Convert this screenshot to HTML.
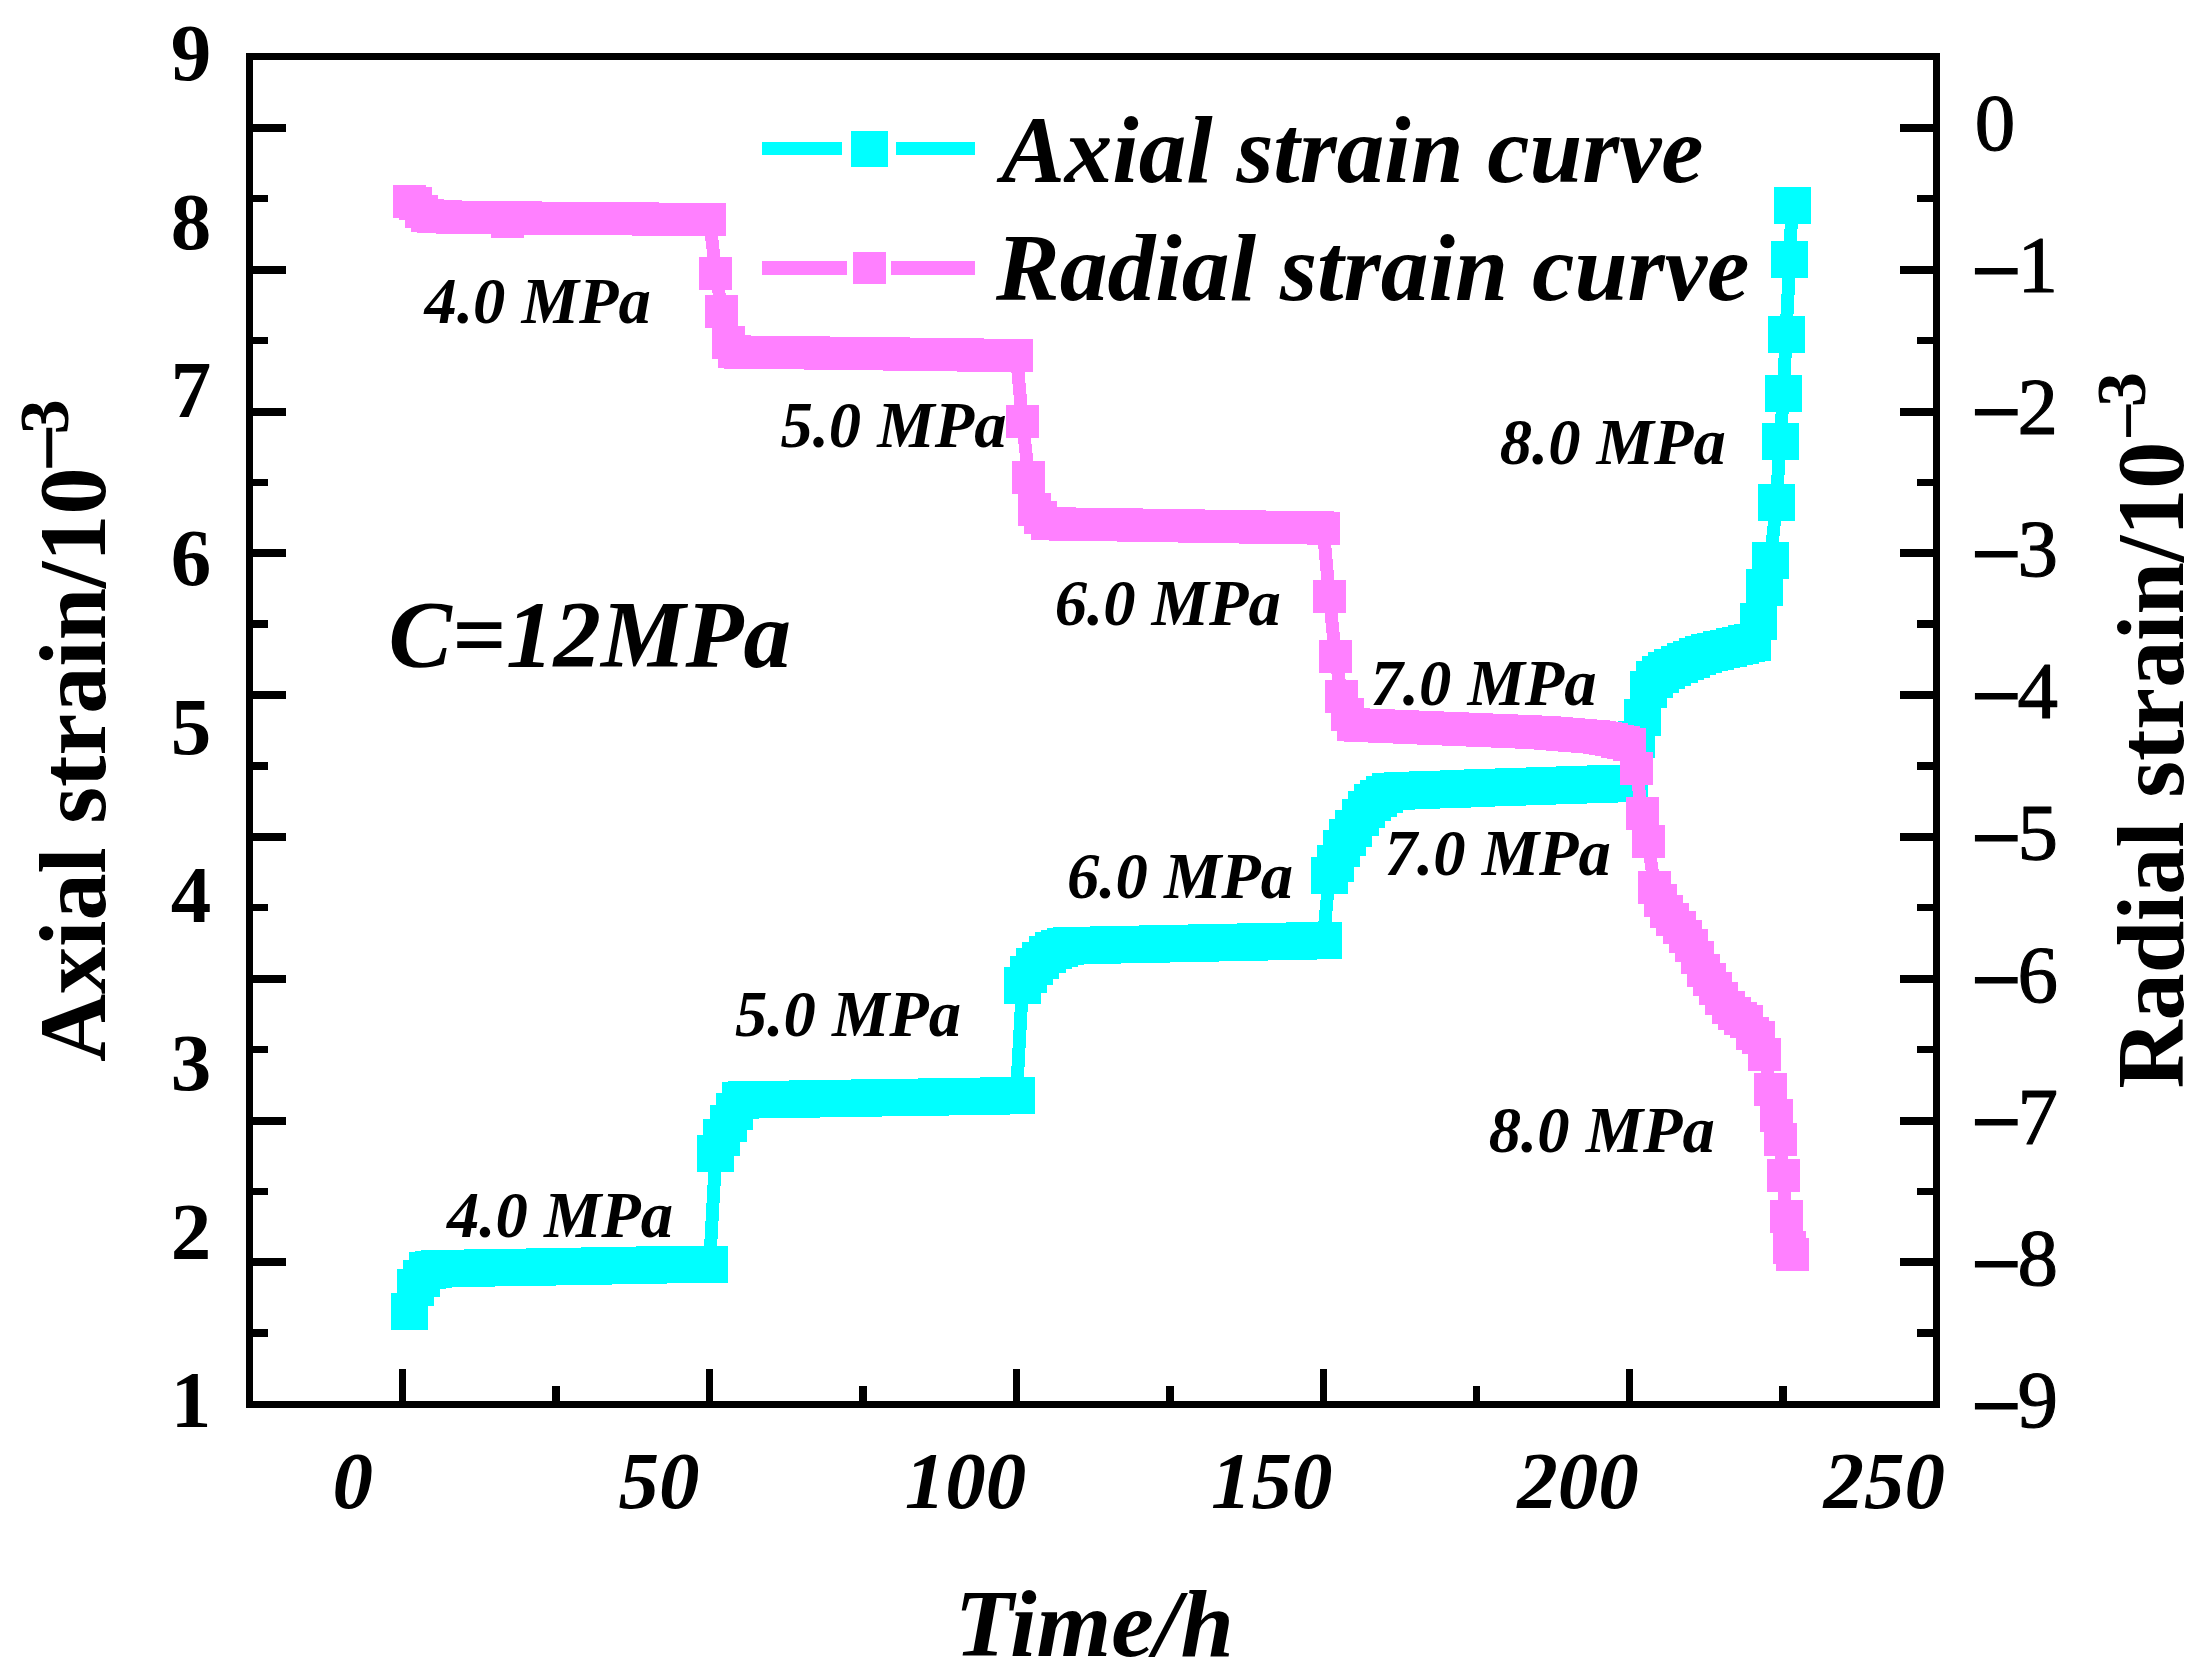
<!DOCTYPE html>
<html lang="en"><head><meta charset="utf-8"><title>Creep strain curves</title>
<style>
html,body{margin:0;padding:0;background:#fff;}
body{width:2204px;height:1680px;overflow:hidden;}
svg{display:block;}
text{font-family:"Liberation Serif",serif;fill:#000;}
.bi{font-weight:bold;font-style:italic;}
.b{font-weight:bold;}
</style></head><body>
<svg width="2204" height="1680" viewBox="0 0 2204 1680" shape-rendering="crispEdges">
<rect x="0" y="0" width="2204" height="1680" fill="#fff"/>
<path d="M409.0 1311.9 L415.2 1287.0 L421.3 1278.4 L427.4 1270.5 L433.6 1269.5 L439.7 1268.5 L445.8 1268.4 L452.0 1268.3 L458.1 1268.2 L464.2 1268.1 L470.4 1268.0 L476.5 1268.0 L482.7 1267.9 L488.8 1267.8 L494.9 1267.7 L501.1 1267.6 L507.2 1267.5 L513.3 1267.4 L519.5 1267.3 L525.6 1267.2 L531.7 1267.1 L537.9 1267.0 L544.0 1266.8 L550.1 1266.7 L556.3 1266.6 L562.4 1266.5 L568.5 1266.4 L574.7 1266.3 L580.8 1266.2 L586.9 1266.1 L593.1 1266.0 L599.2 1265.9 L605.4 1265.8 L611.5 1265.7 L617.6 1265.6 L623.8 1265.5 L629.9 1265.4 L636.0 1265.3 L642.2 1265.1 L648.3 1265.0 L654.4 1264.9 L660.6 1264.8 L666.7 1264.7 L672.8 1264.6 L679.0 1264.5 L685.1 1264.4 L691.2 1264.3 L697.4 1264.2 L703.5 1264.1 L709.6 1264.0 L715.8 1153.7 L721.9 1137.5 L728.1 1123.5 L734.2 1111.0 L740.3 1100.0 L746.5 1099.9 L752.6 1099.8 L758.7 1099.7 L764.9 1099.6 L771.0 1099.5 L777.1 1099.4 L783.3 1099.3 L789.4 1099.2 L795.5 1099.1 L801.7 1099.0 L807.8 1098.9 L813.9 1098.8 L820.1 1098.7 L826.2 1098.6 L832.3 1098.5 L838.5 1098.4 L844.6 1098.3 L850.8 1098.2 L856.9 1098.1 L863.0 1098.0 L869.2 1097.9 L875.3 1097.8 L881.4 1097.8 L887.6 1097.7 L893.7 1097.6 L899.8 1097.5 L906.0 1097.4 L912.1 1097.3 L918.2 1097.2 L924.4 1097.1 L930.5 1097.0 L936.6 1096.9 L942.8 1096.8 L948.9 1096.7 L955.0 1096.6 L961.2 1096.5 L967.3 1096.4 L973.5 1096.3 L979.6 1096.2 L985.7 1096.1 L991.9 1096.0 L998.0 1095.9 L1004.1 1095.8 L1010.3 1095.7 L1016.4 1095.6 L1022.5 985.0 L1028.7 974.0 L1034.8 966.0 L1040.9 960.0 L1047.1 954.5 L1053.2 950.5 L1059.3 948.0 L1065.5 946.9 L1071.6 945.7 L1077.8 945.6 L1083.9 945.4 L1090.0 945.3 L1096.2 945.2 L1102.3 945.1 L1108.4 944.9 L1114.6 944.8 L1120.7 944.7 L1126.8 944.6 L1133.0 944.4 L1139.1 944.3 L1145.2 944.2 L1151.4 944.1 L1157.5 943.9 L1163.6 943.8 L1169.8 943.7 L1175.9 943.5 L1182.0 943.4 L1188.2 943.3 L1194.3 943.2 L1200.4 943.0 L1206.6 942.9 L1212.7 942.8 L1218.9 942.7 L1225.0 942.5 L1231.1 942.4 L1237.3 942.3 L1243.4 942.1 L1249.5 942.0 L1255.7 941.9 L1261.8 941.8 L1267.9 941.6 L1274.1 941.5 L1280.2 941.4 L1286.3 941.3 L1292.5 941.1 L1298.6 941.0 L1304.7 940.9 L1310.9 940.8 L1317.0 940.6 L1323.2 940.5 L1329.3 875.8 L1335.4 863.5 L1341.6 848.8 L1347.7 837.7 L1353.8 828.0 L1360.0 817.3 L1366.1 809.0 L1372.2 802.7 L1378.4 798.0 L1384.5 794.2 L1390.6 791.6 L1396.8 791.1 L1402.9 790.6 L1409.0 790.4 L1415.2 790.2 L1421.3 790.0 L1427.4 789.8 L1433.6 789.6 L1439.7 789.4 L1445.8 789.2 L1452.0 789.0 L1458.1 788.8 L1464.3 788.5 L1470.4 788.3 L1476.5 788.1 L1482.7 787.9 L1488.8 787.7 L1494.9 787.5 L1501.1 787.3 L1507.2 787.1 L1513.3 786.9 L1519.5 786.7 L1525.6 786.5 L1531.7 786.3 L1537.9 786.1 L1544.0 785.9 L1550.1 785.7 L1556.3 785.5 L1562.4 785.3 L1568.5 785.1 L1574.7 784.8 L1580.8 784.6 L1587.0 784.4 L1593.1 784.2 L1599.2 784.0 L1605.4 783.8 L1611.5 783.6 L1617.6 783.4 L1623.8 783.2 L1629.9 783.0 L1636.0 739.5 L1642.2 717.0 L1648.3 689.0 L1654.4 679.0 L1660.6 674.0 L1666.7 670.0 L1672.8 667.0 L1679.0 664.0 L1685.1 661.5 L1691.2 659.0 L1697.4 656.5 L1703.5 654.0 L1709.7 652.5 L1715.8 651.0 L1721.9 649.5 L1728.1 648.0 L1734.2 646.5 L1740.3 645.0 L1746.5 643.5 L1752.6 642.0 L1758.5 621.5 L1764.6 587.0 L1770.5 560.3 L1776.4 502.5 L1780.0 441.5 L1783.5 393.5 L1786.0 334.5 L1789.8 259.0 L1792.0 205.0" fill="none" stroke="#00ffff" stroke-width="13" stroke-linejoin="miter"/>
<path d="M390.5 1293.4h37v37h-37zM396.7 1268.5h37v37h-37zM402.8 1259.9h37v37h-37zM408.9 1252.0h37v37h-37zM415.1 1251.0h37v37h-37zM421.2 1250.0h37v37h-37zM427.3 1249.9h37v37h-37zM433.5 1249.8h37v37h-37zM439.6 1249.7h37v37h-37zM445.8 1249.6h37v37h-37zM451.9 1249.5h37v37h-37zM458.0 1249.5h37v37h-37zM464.2 1249.4h37v37h-37zM470.3 1249.3h37v37h-37zM476.4 1249.2h37v37h-37zM482.6 1249.1h37v37h-37zM488.7 1249.0h37v37h-37zM494.8 1248.9h37v37h-37zM501.0 1248.8h37v37h-37zM507.1 1248.7h37v37h-37zM513.2 1248.6h37v37h-37zM519.4 1248.5h37v37h-37zM525.5 1248.3h37v37h-37zM531.6 1248.2h37v37h-37zM537.8 1248.1h37v37h-37zM543.9 1248.0h37v37h-37zM550.0 1247.9h37v37h-37zM556.2 1247.8h37v37h-37zM562.3 1247.7h37v37h-37zM568.4 1247.6h37v37h-37zM574.6 1247.5h37v37h-37zM580.7 1247.4h37v37h-37zM586.9 1247.3h37v37h-37zM593.0 1247.2h37v37h-37zM599.1 1247.1h37v37h-37zM605.3 1247.0h37v37h-37zM611.4 1246.9h37v37h-37zM617.5 1246.8h37v37h-37zM623.7 1246.6h37v37h-37zM629.8 1246.5h37v37h-37zM635.9 1246.4h37v37h-37zM642.1 1246.3h37v37h-37zM648.2 1246.2h37v37h-37zM654.3 1246.1h37v37h-37zM660.5 1246.0h37v37h-37zM666.6 1245.9h37v37h-37zM672.7 1245.8h37v37h-37zM678.9 1245.7h37v37h-37zM685.0 1245.6h37v37h-37zM691.1 1245.5h37v37h-37zM697.3 1135.2h37v37h-37zM703.4 1119.0h37v37h-37zM709.6 1105.0h37v37h-37zM715.7 1092.5h37v37h-37zM721.8 1081.5h37v37h-37zM728.0 1081.4h37v37h-37zM734.1 1081.3h37v37h-37zM740.2 1081.2h37v37h-37zM746.4 1081.1h37v37h-37zM752.5 1081.0h37v37h-37zM758.6 1080.9h37v37h-37zM764.8 1080.8h37v37h-37zM770.9 1080.7h37v37h-37zM777.0 1080.6h37v37h-37zM783.2 1080.5h37v37h-37zM789.3 1080.4h37v37h-37zM795.4 1080.3h37v37h-37zM801.6 1080.2h37v37h-37zM807.7 1080.1h37v37h-37zM813.8 1080.0h37v37h-37zM820.0 1079.9h37v37h-37zM826.1 1079.8h37v37h-37zM832.3 1079.7h37v37h-37zM838.4 1079.6h37v37h-37zM844.5 1079.5h37v37h-37zM850.7 1079.4h37v37h-37zM856.8 1079.3h37v37h-37zM862.9 1079.3h37v37h-37zM869.1 1079.2h37v37h-37zM875.2 1079.1h37v37h-37zM881.3 1079.0h37v37h-37zM887.5 1078.9h37v37h-37zM893.6 1078.8h37v37h-37zM899.7 1078.7h37v37h-37zM905.9 1078.6h37v37h-37zM912.0 1078.5h37v37h-37zM918.1 1078.4h37v37h-37zM924.3 1078.3h37v37h-37zM930.4 1078.2h37v37h-37zM936.5 1078.1h37v37h-37zM942.7 1078.0h37v37h-37zM948.8 1077.9h37v37h-37zM955.0 1077.8h37v37h-37zM961.1 1077.7h37v37h-37zM967.2 1077.6h37v37h-37zM973.4 1077.5h37v37h-37zM979.5 1077.4h37v37h-37zM985.6 1077.3h37v37h-37zM991.8 1077.2h37v37h-37zM997.9 1077.1h37v37h-37zM1004.0 966.5h37v37h-37zM1010.2 955.5h37v37h-37zM1016.3 947.5h37v37h-37zM1022.4 941.5h37v37h-37zM1028.6 936.0h37v37h-37zM1034.7 932.0h37v37h-37zM1040.8 929.5h37v37h-37zM1047.0 928.4h37v37h-37zM1053.1 927.2h37v37h-37zM1059.2 927.1h37v37h-37zM1065.4 926.9h37v37h-37zM1071.5 926.8h37v37h-37zM1077.7 926.7h37v37h-37zM1083.8 926.6h37v37h-37zM1089.9 926.4h37v37h-37zM1096.1 926.3h37v37h-37zM1102.2 926.2h37v37h-37zM1108.3 926.1h37v37h-37zM1114.5 925.9h37v37h-37zM1120.6 925.8h37v37h-37zM1126.7 925.7h37v37h-37zM1132.9 925.6h37v37h-37zM1139.0 925.4h37v37h-37zM1145.1 925.3h37v37h-37zM1151.3 925.2h37v37h-37zM1157.4 925.0h37v37h-37zM1163.5 924.9h37v37h-37zM1169.7 924.8h37v37h-37zM1175.8 924.7h37v37h-37zM1181.9 924.5h37v37h-37zM1188.1 924.4h37v37h-37zM1194.2 924.3h37v37h-37zM1200.4 924.2h37v37h-37zM1206.5 924.0h37v37h-37zM1212.6 923.9h37v37h-37zM1218.8 923.8h37v37h-37zM1224.9 923.6h37v37h-37zM1231.0 923.5h37v37h-37zM1237.2 923.4h37v37h-37zM1243.3 923.3h37v37h-37zM1249.4 923.1h37v37h-37zM1255.6 923.0h37v37h-37zM1261.7 922.9h37v37h-37zM1267.8 922.8h37v37h-37zM1274.0 922.6h37v37h-37zM1280.1 922.5h37v37h-37zM1286.2 922.4h37v37h-37zM1292.4 922.3h37v37h-37zM1298.5 922.1h37v37h-37zM1304.7 922.0h37v37h-37zM1310.8 857.3h37v37h-37zM1316.9 845.0h37v37h-37zM1323.1 830.3h37v37h-37zM1329.2 819.2h37v37h-37zM1335.3 809.5h37v37h-37zM1341.5 798.8h37v37h-37zM1347.6 790.5h37v37h-37zM1353.7 784.2h37v37h-37zM1359.9 779.5h37v37h-37zM1366.0 775.7h37v37h-37zM1372.1 773.1h37v37h-37zM1378.3 772.6h37v37h-37zM1384.4 772.1h37v37h-37zM1390.5 771.9h37v37h-37zM1396.7 771.7h37v37h-37zM1402.8 771.5h37v37h-37zM1408.9 771.3h37v37h-37zM1415.1 771.1h37v37h-37zM1421.2 770.9h37v37h-37zM1427.3 770.7h37v37h-37zM1433.5 770.5h37v37h-37zM1439.6 770.3h37v37h-37zM1445.8 770.0h37v37h-37zM1451.9 769.8h37v37h-37zM1458.0 769.6h37v37h-37zM1464.2 769.4h37v37h-37zM1470.3 769.2h37v37h-37zM1476.4 769.0h37v37h-37zM1482.6 768.8h37v37h-37zM1488.7 768.6h37v37h-37zM1494.8 768.4h37v37h-37zM1501.0 768.2h37v37h-37zM1507.1 768.0h37v37h-37zM1513.2 767.8h37v37h-37zM1519.4 767.6h37v37h-37zM1525.5 767.4h37v37h-37zM1531.6 767.2h37v37h-37zM1537.8 767.0h37v37h-37zM1543.9 766.8h37v37h-37zM1550.0 766.6h37v37h-37zM1556.2 766.3h37v37h-37zM1562.3 766.1h37v37h-37zM1568.5 765.9h37v37h-37zM1574.6 765.7h37v37h-37zM1580.7 765.5h37v37h-37zM1586.9 765.3h37v37h-37zM1593.0 765.1h37v37h-37zM1599.1 764.9h37v37h-37zM1605.3 764.7h37v37h-37zM1611.4 764.5h37v37h-37zM1617.5 721.0h37v37h-37zM1623.7 698.5h37v37h-37zM1629.8 670.5h37v37h-37zM1635.9 660.5h37v37h-37zM1642.1 655.5h37v37h-37zM1648.2 651.5h37v37h-37zM1654.3 648.5h37v37h-37zM1660.5 645.5h37v37h-37zM1666.6 643.0h37v37h-37zM1672.8 640.5h37v37h-37zM1678.9 638.0h37v37h-37zM1685.0 635.5h37v37h-37zM1691.2 634.0h37v37h-37zM1697.3 632.5h37v37h-37zM1703.4 631.0h37v37h-37zM1709.6 629.5h37v37h-37zM1715.7 628.0h37v37h-37zM1721.8 626.5h37v37h-37zM1728.0 625.0h37v37h-37zM1734.1 623.5h37v37h-37zM1740.0 603.0h37v37h-37zM1746.1 568.5h37v37h-37zM1752.0 541.8h37v37h-37zM1757.9 484.0h37v37h-37zM1761.5 423.0h37v37h-37zM1765.0 375.0h37v37h-37zM1767.5 316.0h37v37h-37zM1771.3 240.5h37v37h-37zM1773.5 186.5h37v37h-37z" fill="#00ffff"/>
<path d="M409.5 201.6 L415.5 203.6 L421.5 211.0 L427.5 215.5 L433.6 216.5 L439.7 216.7 L445.8 216.8 L452.0 217.0 L458.1 217.2 L464.2 217.3 L470.4 217.3 L476.5 217.4 L482.7 217.4 L488.8 217.5 L494.9 217.5 L501.1 217.6 L507.2 221.3 L513.3 217.8 L519.5 217.9 L525.6 217.9 L531.7 218.0 L537.9 218.0 L544.0 218.1 L550.1 218.1 L556.3 218.2 L562.4 218.2 L568.5 218.3 L574.7 218.3 L580.8 218.4 L586.9 218.4 L593.1 218.5 L599.2 218.5 L605.4 218.6 L611.5 218.7 L617.6 218.7 L623.8 218.8 L629.9 218.8 L636.0 218.9 L642.2 218.9 L648.3 219.0 L654.4 219.0 L660.6 219.1 L666.7 219.1 L672.8 219.2 L679.0 219.2 L685.1 219.3 L691.2 219.3 L697.4 219.4 L703.5 219.4 L709.6 219.5 L715.8 273.0 L721.9 311.0 L728.1 342.0 L734.2 351.0 L740.3 352.0 L746.5 352.1 L752.6 352.2 L758.7 352.2 L764.9 352.3 L771.0 352.4 L777.1 352.5 L783.3 352.5 L789.4 352.6 L795.5 352.7 L801.7 352.8 L807.8 352.9 L813.9 352.9 L820.1 353.0 L826.2 353.1 L832.3 353.2 L838.5 353.2 L844.6 353.3 L850.8 353.4 L856.9 353.5 L863.0 353.6 L869.2 353.6 L875.3 353.7 L881.4 353.8 L887.6 353.9 L893.7 353.9 L899.8 354.0 L906.0 354.1 L912.1 354.2 L918.2 354.3 L924.4 354.3 L930.5 354.4 L936.6 354.5 L942.8 354.6 L948.9 354.6 L955.0 354.7 L961.2 354.8 L967.3 354.9 L973.5 355.0 L979.6 355.0 L985.7 355.1 L991.9 355.2 L998.0 355.3 L1004.1 355.3 L1010.3 355.4 L1016.4 355.5 L1022.5 421.0 L1028.7 477.5 L1034.8 509.5 L1040.9 517.0 L1047.1 523.0 L1053.2 523.8 L1059.3 523.9 L1065.5 524.0 L1071.6 524.1 L1077.8 524.2 L1083.9 524.3 L1090.0 524.4 L1096.2 524.5 L1102.3 524.6 L1108.4 524.7 L1114.6 524.8 L1120.7 524.8 L1126.8 524.9 L1133.0 525.0 L1139.1 525.1 L1145.2 525.2 L1151.4 525.3 L1157.5 525.4 L1163.6 525.5 L1169.8 525.6 L1175.9 525.7 L1182.0 525.8 L1188.2 525.9 L1194.3 526.0 L1200.4 526.1 L1206.6 526.2 L1212.7 526.3 L1218.9 526.4 L1225.0 526.5 L1231.1 526.6 L1237.3 526.7 L1243.4 526.8 L1249.5 526.9 L1255.7 527.0 L1261.8 527.0 L1267.9 527.1 L1274.1 527.2 L1280.2 527.3 L1286.3 527.4 L1292.5 527.5 L1298.6 527.6 L1304.7 527.7 L1310.9 527.8 L1317.0 527.9 L1323.2 528.0 L1329.3 596.0 L1335.4 656.0 L1341.6 696.5 L1347.7 714.0 L1353.8 724.5 L1360.0 725.0 L1366.1 725.2 L1372.2 725.5 L1378.4 725.8 L1384.5 726.0 L1390.6 726.2 L1396.8 726.5 L1402.9 726.8 L1409.0 727.0 L1415.2 727.2 L1421.3 727.5 L1427.4 727.8 L1433.6 728.0 L1439.7 728.2 L1445.8 728.5 L1452.0 728.8 L1458.1 729.0 L1464.3 729.2 L1470.4 729.5 L1476.5 729.8 L1482.7 730.0 L1488.8 730.2 L1494.9 730.5 L1501.1 730.8 L1507.2 731.0 L1513.3 731.2 L1519.5 731.5 L1525.6 731.8 L1531.7 732.0 L1537.9 732.2 L1544.0 732.5 L1550.1 733.0 L1556.3 733.5 L1562.4 734.0 L1568.5 734.5 L1574.7 735.0 L1580.8 735.5 L1587.0 736.0 L1593.1 736.9 L1599.2 737.8 L1605.4 738.6 L1611.5 739.5 L1617.6 741.0 L1623.8 742.5 L1629.9 744.0 L1636.0 768.5 L1642.2 813.5 L1648.3 841.7 L1654.4 887.6 L1660.6 900.5 L1666.7 911.0 L1672.8 919.9 L1679.0 927.3 L1685.1 936.2 L1691.2 945.2 L1697.4 957.0 L1703.5 970.5 L1709.7 979.4 L1715.8 988.3 L1721.9 998.7 L1728.1 1007.7 L1734.2 1013.6 L1740.3 1018.0 L1746.5 1021.0 L1752.6 1033.0 L1758.7 1037.4 L1764.9 1054.4 L1770.5 1089.7 L1776.4 1115.0 L1780.0 1139.5 L1783.6 1175.8 L1786.0 1216.4 L1789.5 1247.0 L1792.0 1254.5" fill="none" stroke="#ff80ff" stroke-width="13" stroke-linejoin="miter"/>
<path d="M393.0 185.1h33v33h-33zM399.0 187.1h33v33h-33zM405.0 194.5h33v33h-33zM411.0 199.0h33v33h-33zM417.1 200.0h33v33h-33zM423.2 200.2h33v33h-33zM429.3 200.3h33v33h-33zM435.5 200.5h33v33h-33zM441.6 200.7h33v33h-33zM447.8 200.8h33v33h-33zM453.9 200.8h33v33h-33zM460.0 200.9h33v33h-33zM466.2 200.9h33v33h-33zM472.3 201.0h33v33h-33zM478.4 201.0h33v33h-33zM484.6 201.1h33v33h-33zM490.7 204.8h33v33h-33zM496.8 201.3h33v33h-33zM503.0 201.4h33v33h-33zM509.1 201.4h33v33h-33zM515.2 201.5h33v33h-33zM521.4 201.5h33v33h-33zM527.5 201.6h33v33h-33zM533.6 201.6h33v33h-33zM539.8 201.7h33v33h-33zM545.9 201.7h33v33h-33zM552.0 201.8h33v33h-33zM558.2 201.8h33v33h-33zM564.3 201.9h33v33h-33zM570.4 201.9h33v33h-33zM576.6 202.0h33v33h-33zM582.7 202.0h33v33h-33zM588.9 202.1h33v33h-33zM595.0 202.2h33v33h-33zM601.1 202.2h33v33h-33zM607.3 202.3h33v33h-33zM613.4 202.3h33v33h-33zM619.5 202.4h33v33h-33zM625.7 202.4h33v33h-33zM631.8 202.5h33v33h-33zM637.9 202.5h33v33h-33zM644.1 202.6h33v33h-33zM650.2 202.6h33v33h-33zM656.3 202.7h33v33h-33zM662.5 202.7h33v33h-33zM668.6 202.8h33v33h-33zM674.7 202.8h33v33h-33zM680.9 202.9h33v33h-33zM687.0 202.9h33v33h-33zM693.1 203.0h33v33h-33zM699.3 256.5h33v33h-33zM705.4 294.5h33v33h-33zM711.6 325.5h33v33h-33zM717.7 334.5h33v33h-33zM723.8 335.5h33v33h-33zM730.0 335.6h33v33h-33zM736.1 335.7h33v33h-33zM742.2 335.7h33v33h-33zM748.4 335.8h33v33h-33zM754.5 335.9h33v33h-33zM760.6 336.0h33v33h-33zM766.8 336.0h33v33h-33zM772.9 336.1h33v33h-33zM779.0 336.2h33v33h-33zM785.2 336.3h33v33h-33zM791.3 336.4h33v33h-33zM797.4 336.4h33v33h-33zM803.6 336.5h33v33h-33zM809.7 336.6h33v33h-33zM815.8 336.7h33v33h-33zM822.0 336.7h33v33h-33zM828.1 336.8h33v33h-33zM834.3 336.9h33v33h-33zM840.4 337.0h33v33h-33zM846.5 337.1h33v33h-33zM852.7 337.1h33v33h-33zM858.8 337.2h33v33h-33zM864.9 337.3h33v33h-33zM871.1 337.4h33v33h-33zM877.2 337.4h33v33h-33zM883.3 337.5h33v33h-33zM889.5 337.6h33v33h-33zM895.6 337.7h33v33h-33zM901.7 337.8h33v33h-33zM907.9 337.8h33v33h-33zM914.0 337.9h33v33h-33zM920.1 338.0h33v33h-33zM926.3 338.1h33v33h-33zM932.4 338.1h33v33h-33zM938.5 338.2h33v33h-33zM944.7 338.3h33v33h-33zM950.8 338.4h33v33h-33zM957.0 338.5h33v33h-33zM963.1 338.5h33v33h-33zM969.2 338.6h33v33h-33zM975.4 338.7h33v33h-33zM981.5 338.8h33v33h-33zM987.6 338.8h33v33h-33zM993.8 338.9h33v33h-33zM999.9 339.0h33v33h-33zM1006.0 404.5h33v33h-33zM1012.2 461.0h33v33h-33zM1018.3 493.0h33v33h-33zM1024.4 500.5h33v33h-33zM1030.6 506.5h33v33h-33zM1036.7 507.3h33v33h-33zM1042.8 507.4h33v33h-33zM1049.0 507.5h33v33h-33zM1055.1 507.6h33v33h-33zM1061.2 507.7h33v33h-33zM1067.4 507.8h33v33h-33zM1073.5 507.9h33v33h-33zM1079.7 508.0h33v33h-33zM1085.8 508.1h33v33h-33zM1091.9 508.2h33v33h-33zM1098.1 508.3h33v33h-33zM1104.2 508.3h33v33h-33zM1110.3 508.4h33v33h-33zM1116.5 508.5h33v33h-33zM1122.6 508.6h33v33h-33zM1128.7 508.7h33v33h-33zM1134.9 508.8h33v33h-33zM1141.0 508.9h33v33h-33zM1147.1 509.0h33v33h-33zM1153.3 509.1h33v33h-33zM1159.4 509.2h33v33h-33zM1165.5 509.3h33v33h-33zM1171.7 509.4h33v33h-33zM1177.8 509.5h33v33h-33zM1183.9 509.6h33v33h-33zM1190.1 509.7h33v33h-33zM1196.2 509.8h33v33h-33zM1202.4 509.9h33v33h-33zM1208.5 510.0h33v33h-33zM1214.6 510.1h33v33h-33zM1220.8 510.2h33v33h-33zM1226.9 510.3h33v33h-33zM1233.0 510.4h33v33h-33zM1239.2 510.5h33v33h-33zM1245.3 510.5h33v33h-33zM1251.4 510.6h33v33h-33zM1257.6 510.7h33v33h-33zM1263.7 510.8h33v33h-33zM1269.8 510.9h33v33h-33zM1276.0 511.0h33v33h-33zM1282.1 511.1h33v33h-33zM1288.2 511.2h33v33h-33zM1294.4 511.3h33v33h-33zM1300.5 511.4h33v33h-33zM1306.7 511.5h33v33h-33zM1312.8 579.5h33v33h-33zM1318.9 639.5h33v33h-33zM1325.1 680.0h33v33h-33zM1331.2 697.5h33v33h-33zM1337.3 708.0h33v33h-33zM1343.5 708.5h33v33h-33zM1349.6 708.8h33v33h-33zM1355.7 709.0h33v33h-33zM1361.9 709.2h33v33h-33zM1368.0 709.5h33v33h-33zM1374.1 709.8h33v33h-33zM1380.3 710.0h33v33h-33zM1386.4 710.2h33v33h-33zM1392.5 710.5h33v33h-33zM1398.7 710.8h33v33h-33zM1404.8 711.0h33v33h-33zM1410.9 711.2h33v33h-33zM1417.1 711.5h33v33h-33zM1423.2 711.8h33v33h-33zM1429.3 712.0h33v33h-33zM1435.5 712.2h33v33h-33zM1441.6 712.5h33v33h-33zM1447.8 712.8h33v33h-33zM1453.9 713.0h33v33h-33zM1460.0 713.2h33v33h-33zM1466.2 713.5h33v33h-33zM1472.3 713.8h33v33h-33zM1478.4 714.0h33v33h-33zM1484.6 714.2h33v33h-33zM1490.7 714.5h33v33h-33zM1496.8 714.8h33v33h-33zM1503.0 715.0h33v33h-33zM1509.1 715.2h33v33h-33zM1515.2 715.5h33v33h-33zM1521.4 715.8h33v33h-33zM1527.5 716.0h33v33h-33zM1533.6 716.5h33v33h-33zM1539.8 717.0h33v33h-33zM1545.9 717.5h33v33h-33zM1552.0 718.0h33v33h-33zM1558.2 718.5h33v33h-33zM1564.3 719.0h33v33h-33zM1570.5 719.5h33v33h-33zM1576.6 720.4h33v33h-33zM1582.7 721.2h33v33h-33zM1588.9 722.1h33v33h-33zM1595.0 723.0h33v33h-33zM1601.1 724.5h33v33h-33zM1607.3 726.0h33v33h-33zM1613.4 727.5h33v33h-33zM1619.5 752.0h33v33h-33zM1625.7 797.0h33v33h-33zM1631.8 825.2h33v33h-33zM1637.9 871.1h33v33h-33zM1644.1 884.0h33v33h-33zM1650.2 894.5h33v33h-33zM1656.3 903.4h33v33h-33zM1662.5 910.8h33v33h-33zM1668.6 919.7h33v33h-33zM1674.8 928.7h33v33h-33zM1680.9 940.5h33v33h-33zM1687.0 954.0h33v33h-33zM1693.2 962.9h33v33h-33zM1699.3 971.8h33v33h-33zM1705.4 982.2h33v33h-33zM1711.6 991.2h33v33h-33zM1717.7 997.1h33v33h-33zM1723.8 1001.5h33v33h-33zM1730.0 1004.5h33v33h-33zM1736.1 1016.5h33v33h-33zM1742.2 1020.9h33v33h-33zM1748.4 1037.9h33v33h-33zM1754.0 1073.2h33v33h-33zM1759.9 1098.5h33v33h-33zM1763.5 1123.0h33v33h-33zM1767.1 1159.3h33v33h-33zM1769.5 1199.9h33v33h-33zM1773.0 1230.5h33v33h-33zM1775.5 1238.0h33v33h-33z" fill="#ff80ff"/>
<g stroke="#000" stroke-width="7" fill="none" stroke-linecap="butt">
<rect x="249.5" y="56.7" width="1687" height="1347.6"/>
</g>
<path d="M249.5 128.05H286M1936.5 128.05H1900M249.5 269.85H286M1936.5 269.85H1900M249.5 411.65H286M1936.5 411.65H1900M249.5 553.45H286M1936.5 553.45H1900M249.5 695.25H286M1936.5 695.25H1900M249.5 837.05H286M1936.5 837.05H1900M249.5 978.85H286M1936.5 978.85H1900M249.5 1120.65H286M1936.5 1120.65H1900M249.5 1262.45H286M1936.5 1262.45H1900" stroke="#000" stroke-width="8" fill="none"/>
<path d="M249.5 198.65H268M1936.5 198.65H1917M249.5 340.45H268M1936.5 340.45H1917M249.5 482.25H268M1936.5 482.25H1917M249.5 624.05H268M1936.5 624.05H1917M249.5 765.85H268M1936.5 765.85H1917M249.5 907.65H268M1936.5 907.65H1917M249.5 1049.45H268M1936.5 1049.45H1917M249.5 1191.25H268M1936.5 1191.25H1917M249.5 1333.05H268M1936.5 1333.05H1917" stroke="#000" stroke-width="7.5" fill="none"/>
<path d="M402.90 1404.3V1368.9M709.65 1404.3V1368.9M1016.40 1404.3V1368.9M1323.15 1404.3V1368.9M1629.90 1404.3V1368.9" stroke="#000" stroke-width="7" fill="none"/>
<path d="M556.27 1404.3V1386M863.02 1404.3V1386M1169.78 1404.3V1386M1476.53 1404.3V1386M1783.28 1404.3V1386" stroke="#000" stroke-width="7.7" fill="none"/>
<text class="b" x="191" y="80.3" font-size="81" text-anchor="middle">9</text>
<text class="b" x="191" y="248.6" font-size="81" text-anchor="middle">8</text>
<text class="b" x="191" y="417.0" font-size="81" text-anchor="middle">7</text>
<text class="b" x="191" y="585.3" font-size="81" text-anchor="middle">6</text>
<text class="b" x="191" y="753.7" font-size="81" text-anchor="middle">5</text>
<text class="b" x="191" y="922.0" font-size="81" text-anchor="middle">4</text>
<text class="b" x="191" y="1090.4" font-size="81" text-anchor="middle">3</text>
<text class="b" x="191" y="1258.8" font-size="81" text-anchor="middle">2</text>
<text class="b" x="191" y="1427.1" font-size="81" text-anchor="middle">1</text>
<g font-size="81" stroke="#000" stroke-width="1.1" stroke-linejoin="round">
<text x="1974.8" y="150.2">0</text>
<text y="292.1"><tspan x="1970.1" dy="9.4" font-size="92" font-weight="bold" stroke="none">−</tspan><tspan x="2017.5" dy="-9.4">1</tspan></text>
<text y="434.0"><tspan x="1970.1" dy="9.4" font-size="92" font-weight="bold" stroke="none">−</tspan><tspan x="2017.5" dy="-9.4">2</tspan></text>
<text y="575.9"><tspan x="1970.1" dy="9.4" font-size="92" font-weight="bold" stroke="none">−</tspan><tspan x="2017.5" dy="-9.4">3</tspan></text>
<text y="717.8"><tspan x="1970.1" dy="9.4" font-size="92" font-weight="bold" stroke="none">−</tspan><tspan x="2017.5" dy="-9.4">4</tspan></text>
<text y="859.7"><tspan x="1970.1" dy="9.4" font-size="92" font-weight="bold" stroke="none">−</tspan><tspan x="2017.5" dy="-9.4">5</tspan></text>
<text y="1001.6"><tspan x="1970.1" dy="9.4" font-size="92" font-weight="bold" stroke="none">−</tspan><tspan x="2017.5" dy="-9.4">6</tspan></text>
<text y="1143.5"><tspan x="1970.1" dy="9.4" font-size="92" font-weight="bold" stroke="none">−</tspan><tspan x="2017.5" dy="-9.4">7</tspan></text>
<text y="1285.4"><tspan x="1970.1" dy="9.4" font-size="92" font-weight="bold" stroke="none">−</tspan><tspan x="2017.5" dy="-9.4">8</tspan></text>
<text y="1427.3"><tspan x="1970.1" dy="9.4" font-size="92" font-weight="bold" stroke="none">−</tspan><tspan x="2017.5" dy="-9.4">9</tspan></text>
</g>
<text class="bi" x="352.8" y="1507.8" font-size="81" text-anchor="middle">0</text>
<text class="bi" x="659.1" y="1507.8" font-size="81" text-anchor="middle">50</text>
<text class="bi" x="965.4" y="1507.8" font-size="81" text-anchor="middle">100</text>
<text class="bi" x="1271.7" y="1507.8" font-size="81" text-anchor="middle">150</text>
<text class="bi" x="1578.0" y="1507.8" font-size="81" text-anchor="middle">200</text>
<text class="bi" x="1884.3" y="1507.8" font-size="81" text-anchor="middle">250</text>
<text class="bi" x="1094.4" y="1656" font-size="96" text-anchor="middle">Time/h</text>
<text class="b" transform="translate(105 1062) rotate(-90)" font-size="94.3">Axial strain/10<tspan font-size="86" dx="-5.2" dy="-27.1">−</tspan><tspan font-size="70" dx="-10.6" dy="-10">3</tspan></text>
<text class="b" transform="translate(2183 1088.6) rotate(-90)" font-size="94.3">Radial strain/10<tspan font-size="70" dx="1" dy="-31.3">−</tspan><tspan font-size="70" dx="-6.4" dy="-6.5">3</tspan></text>
<path d="M762 148.5H842M896 148.5H975" stroke="#00ffff" stroke-width="13" fill="none"/>
<rect x="851" y="131" width="37" height="36" fill="#00ffff"/>
<path d="M762 268H847M891 268H975" stroke="#ff80ff" stroke-width="14" fill="none"/>
<rect x="853" y="252" width="33" height="32" fill="#ff80ff"/>
<text class="bi" x="1001.5" y="181.5" font-size="95">Axial strain curve</text>
<text class="bi" x="996" y="299.5" font-size="95.5">Radial strain curve</text>
<text class="bi" x="424.6" y="323.0" font-size="64.6">4.0 MPa</text>
<text class="bi" x="780.4" y="447.4" font-size="64.6">5.0 MPa</text>
<text class="bi" x="1054.7" y="625.2" font-size="64.6">6.0 MPa</text>
<text class="bi" x="1370.5" y="704.7" font-size="64.6">7.0 MPa</text>
<text class="bi" x="1384.8" y="875.0" font-size="64.6">7.0 MPa</text>
<text class="bi" x="1499.7" y="464.1" font-size="64.6">8.0 MPa</text>
<text class="bi" x="1488.8" y="1152.4" font-size="64.6">8.0 MPa</text>
<text class="bi" x="1067.0" y="897.8" font-size="64.6">6.0 MPa</text>
<text class="bi" x="735.0" y="1035.9" font-size="64.6">5.0 MPa</text>
<text class="bi" x="447.0" y="1236.6" font-size="64.6">4.0 MPa</text>
<text class="bi" x="388.5" y="666.6" font-size="95">C=12MPa</text>
</svg></body></html>
